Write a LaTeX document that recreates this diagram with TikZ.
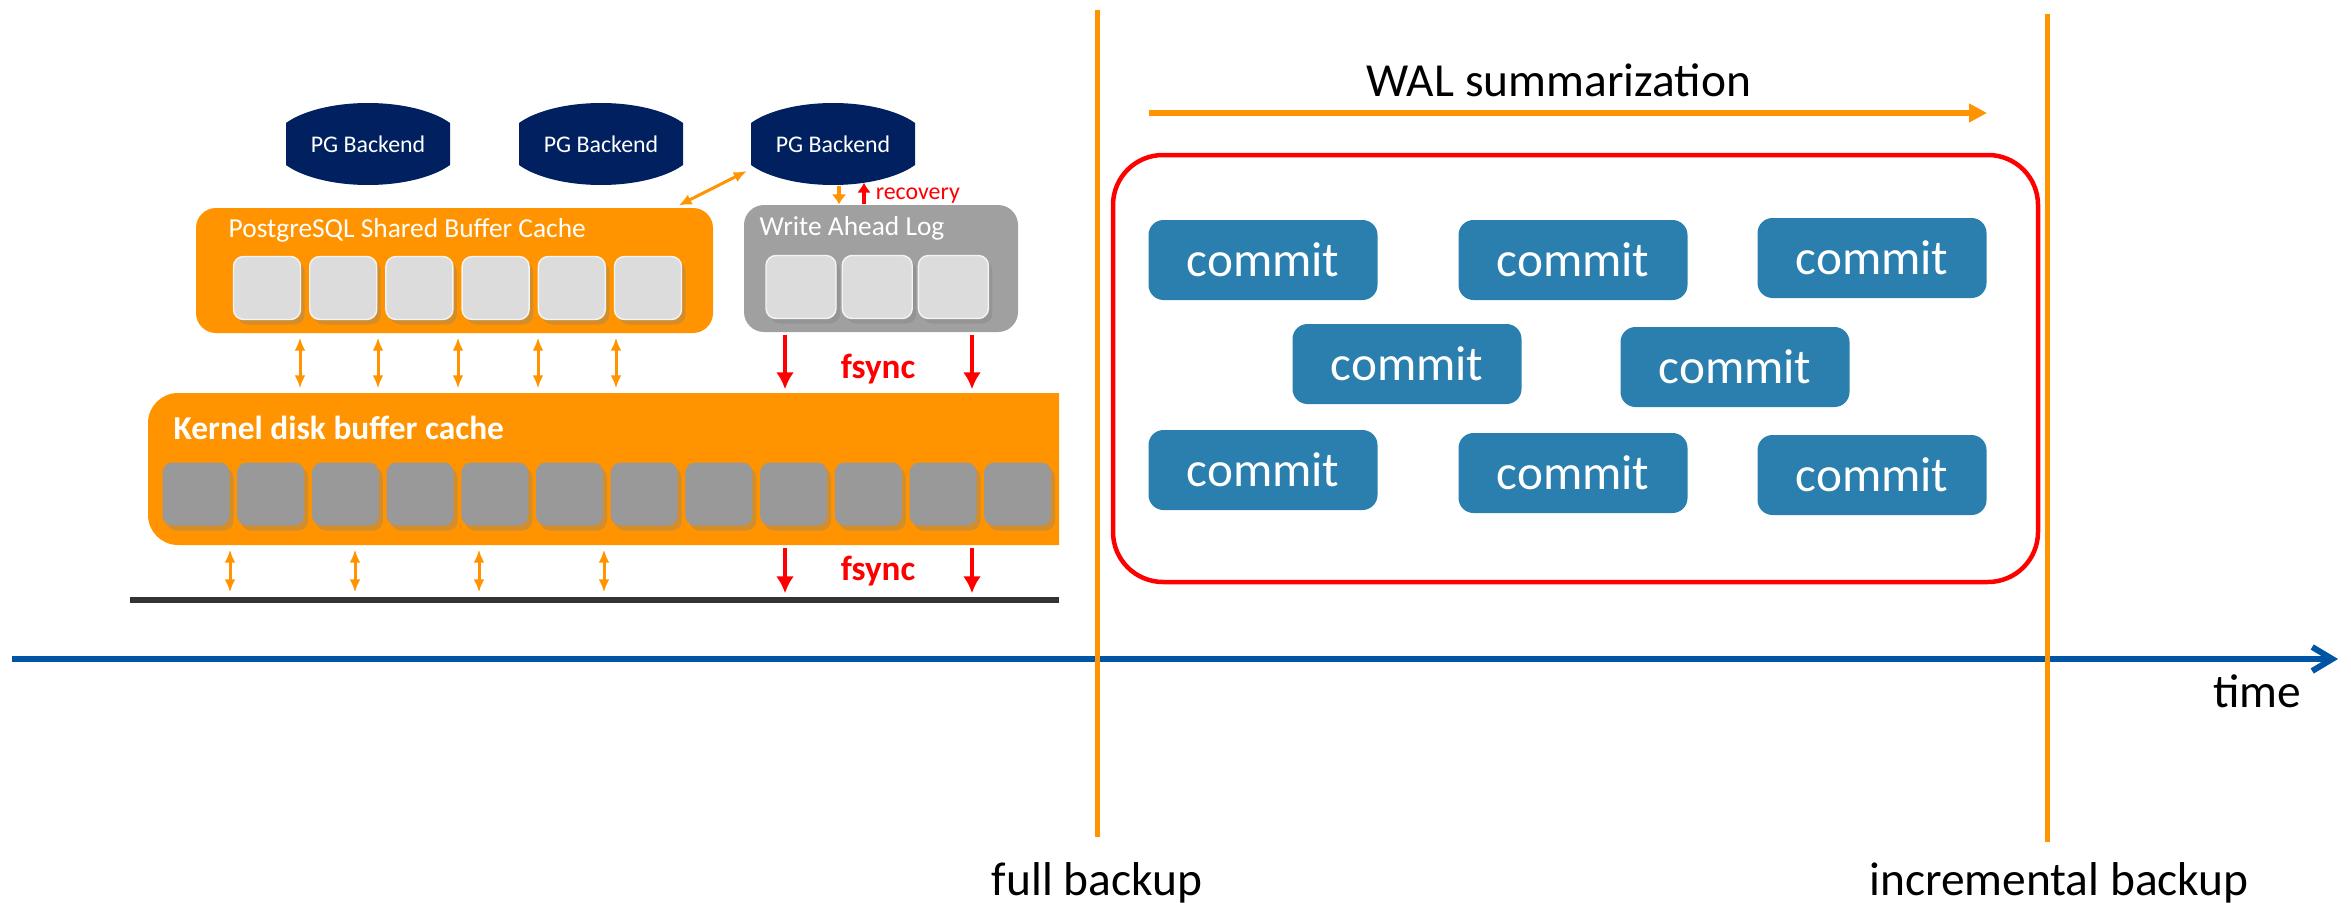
\documentclass[tikz,border=0pt]{standalone}
\usepackage{fontspec}
\setmainfont{Carlito}
\usetikzlibrary{arrows.meta,shadows,positioning}

\definecolor{pgorange}{RGB}{255,148,0}
\definecolor{pgnavy}{RGB}{0,32,96}
\definecolor{walgray}{RGB}{160,160,160}
\definecolor{bufgray}{RGB}{220,220,220}
\definecolor{kgray}{RGB}{153,153,153}
\definecolor{commitblue}{RGB}{42,127,174}
\definecolor{timeblue}{RGB}{0,84,164}
\definecolor{diskgray}{RGB}{51,51,51}

\tikzstyle{backend} = [rectangle, minimum width=16.4mm, minimum height=8.2mm, text=white, font=\fontsize{6.8}{8}\selectfont, path picture={\fill[pgnavy] (path picture bounding box.center) ellipse [x radius=9.55mm, y radius=4.1mm];}]
\tikzstyle{cache} = [rectangle, rounded corners=2mm, fill=pgorange]
\tikzstyle{walbox} = [rectangle, rounded corners=2mm, fill=walgray]
\tikzstyle{buf} = [rectangle, rounded corners=1mm, minimum width=6.7mm, minimum height=6.3mm, fill=bufgray, draw=white!70!bufgray, drop shadow={opacity=0.35, shadow xshift=0.4mm, shadow yshift=-0.5mm}]
\tikzstyle{kbuf} = [buf, fill=kgray, draw=none]
\tikzstyle{boxtitle} = [anchor=base west, inner sep=0pt, text=white, font=\fontsize{7.8}{9}\selectfont]
\tikzstyle{fsynctext} = [anchor=base, inner sep=0pt, text=red, font=\fontsize{10}{12}\selectfont\bfseries]
\tikzstyle{biarrow} = [pgorange, line width=0.3mm, {Latex[length=1.3mm,width=1.1mm]}-{Latex[length=1.3mm,width=1.1mm]}, shorten <=0.4mm, shorten >=0.4mm]
\tikzstyle{redarrow} = [red, line width=0.4mm, -{Latex[length=1.7mm,width=1.8mm]}, shorten <=0.2mm, shorten >=0.3mm]
\tikzstyle{commit} = [rectangle, rounded corners=1.5mm, minimum width=22.9mm, minimum height=8mm, fill=commitblue, text=white, font=\fontsize{14}{16}\selectfont]
\tikzstyle{bigtext} = [anchor=base, inner sep=0pt, font=\fontsize{13.5}{16}\selectfont]
\tikzstyle{backupline} = [pgorange, line width=0.5mm]

\begin{document}
\begin{tikzpicture}[x=0.1mm, y=-0.1mm, node distance=7.62mm]
\useasboundingbox (0,0) rectangle (2351,903);

% backends
\node[backend] (pg1) at (368,144) {PG Backend};
\node[backend] (pg2) at (601,144) {PG Backend};
\node[backend] (pg3) at (833,144) {PG Backend};

% shared buffer cache
\node[cache, minimum width=51.7mm, minimum height=12.5mm] (sbc) at (454.5,270.5) {};
\node[boxtitle] (sbctitle) at (228,238) {PostgreSQL Shared Buffer Cache};
\node[buf] (b1) at (267,288) {};
\node[buf] (b2) [right of=b1] {};
\node[buf] (b3) [right of=b2] {};
\node[buf] (b4) [right of=b3] {};
\node[buf] (b5) [right of=b4] {};
\node[buf] (b6) [right of=b5] {};

% write ahead log
\node[walbox, minimum width=27.4mm, minimum height=12.7mm] (wal) at (881,268.5) {};
\node[boxtitle] (waltitle) at (759,236) {Write Ahead Log};
\node[buf, minimum width=7mm] (w1) at (801,287) {};
\node[buf, minimum width=7mm] (w2) [right of=w1] {};
\node[buf, minimum width=7mm] (w3) [right of=w2] {};

% kernel cache (cut off on the right)
\begin{scope}[node distance=7.47mm]
\clip (0,0) rectangle (1059,903);
\node[cache, rounded corners=3mm, minimum width=95.2mm, minimum height=15.2mm] (kernel) at (624,469) {};
\node[boxtitle, font=\fontsize{9.5}{11}\selectfont\bfseries] (kerneltitle) at (173,439) {Kernel disk buffer cache};
\node[kbuf] (k1) at (196,494) {};
\node[kbuf] (k2) [right of=k1] {};
\node[kbuf] (k3) [right of=k2] {};
\node[kbuf] (k4) [right of=k3] {};
\node[kbuf] (k5) [right of=k4] {};
\node[kbuf] (k6) [right of=k5] {};
\node[kbuf] (k7) [right of=k6] {};
\node[kbuf] (k8) [right of=k7] {};
\node[kbuf] (k9) [right of=k8] {};
\node[kbuf] (k10) [right of=k9] {};
\node[kbuf] (k11) [right of=k10] {};
\node[kbuf] (k12) [right of=k11] {};
\end{scope}

\node[rectangle, fill=diskgray, minimum width=92.9mm, minimum height=0.6mm, inner sep=0pt] (disk) at (594.5,600) {};

\draw[biarrow] (sbc.16) -- (pg3.197);
\draw[pgorange, line width=0.35mm, -{Latex[length=1mm,width=1.5mm]}] (pg3.south -| 839,0) -- (wal.north -| 839,0);
\draw[red, line width=0.35mm, -{Latex[length=1mm,width=1.4mm]}, shorten >=-0.3mm] (wal.north -| 864,0) -- (pg3.south -| 864,0)
  node[pos=0.45, right, xshift=1mm, inner sep=0pt, font=\fontsize{6.8}{8}\selectfont] {recovery};

\draw[biarrow] (sbc.south -| 300,0) -- (kernel.north -| 300,0);
\draw[biarrow] (sbc.south -| 378,0) -- (kernel.north -| 378,0);
\draw[biarrow] (sbc.south -| 458,0) -- (kernel.north -| 458,0);
\draw[biarrow] (sbc.south -| 538,0) -- (kernel.north -| 538,0);
\draw[biarrow] (sbc.south -| 616,0) -- (kernel.north -| 616,0);

\draw[biarrow] (kernel.south -| 230,0) -- (disk.north -| 230,0);
\draw[biarrow] (kernel.south -| 355,0) -- (disk.north -| 355,0);
\draw[biarrow] (kernel.south -| 479,0) -- (disk.north -| 479,0);
\draw[biarrow] (kernel.south -| 604,0) -- (disk.north -| 604,0);

\draw[redarrow] (wal.south -| 785,0) -- (kernel.north -| 785,0);
\draw[redarrow] (wal.south -| 972,0) -- (kernel.north -| 972,0);
\draw[redarrow] (kernel.south -| 785,0) -- (disk.north -| 785,0);
\draw[redarrow] (kernel.south -| 972,0) -- (disk.north -| 972,0);
\node[fsynctext] (fsync1) at (878,378) {fsync};
\node[fsynctext] (fsync2) at (878,580) {fsync};

% time axis and backups
\coordinate (tstart) at (12,659);
\coordinate (tend) at (2338,659);
\draw[timeblue, line width=0.6mm, -{Straight Barb[length=2mm,width=2.4mm]}] (tstart) -- (tend);
\node[bigtext] (timelbl) at (2257,707) {time};

\coordinate (fulltop) at (1097,10);
\coordinate (fullbot) at (1097,837);
\draw[backupline] (fulltop) -- (fullbot);
\node[bigtext] (fullbk) at (1097,895) {full backup};

\coordinate (inctop) at (2047,14);
\coordinate (incbot) at (2047,842);
\draw[backupline] (inctop) -- (incbot);
\node[bigtext] (incbk) at (2059,895) {incremental backup};

% summarization
\node[bigtext] (waltext) at (1559,97) {WAL summarization};
\coordinate (walstart) at (1149,113);
\coordinate (walend) at (1987,113);
\draw[pgorange, line width=0.6mm, -{Triangle[length=1.8mm,width=1.8mm]}] (walstart) -- (walend);

\node[draw=red, line width=0.45mm, rounded corners=5mm, minimum width=92.5mm, minimum height=42.7mm] (summary) at (1575.5,368.5) {};

\node[commit] (c1) at (1263,260) {commit};
\node[commit] (c2) at (1573,260) {commit};
\node[commit] (c3) at (1872,258) {commit};
\node[commit] (c4) at (1407,364) {commit};
\node[commit] (c5) at (1735,367) {commit};
\node[commit] (c6) at (1263,470) {commit};
\node[commit] (c7) at (1573,473) {commit};
\node[commit] (c8) at (1872,475) {commit};

\end{tikzpicture}
\end{document}
